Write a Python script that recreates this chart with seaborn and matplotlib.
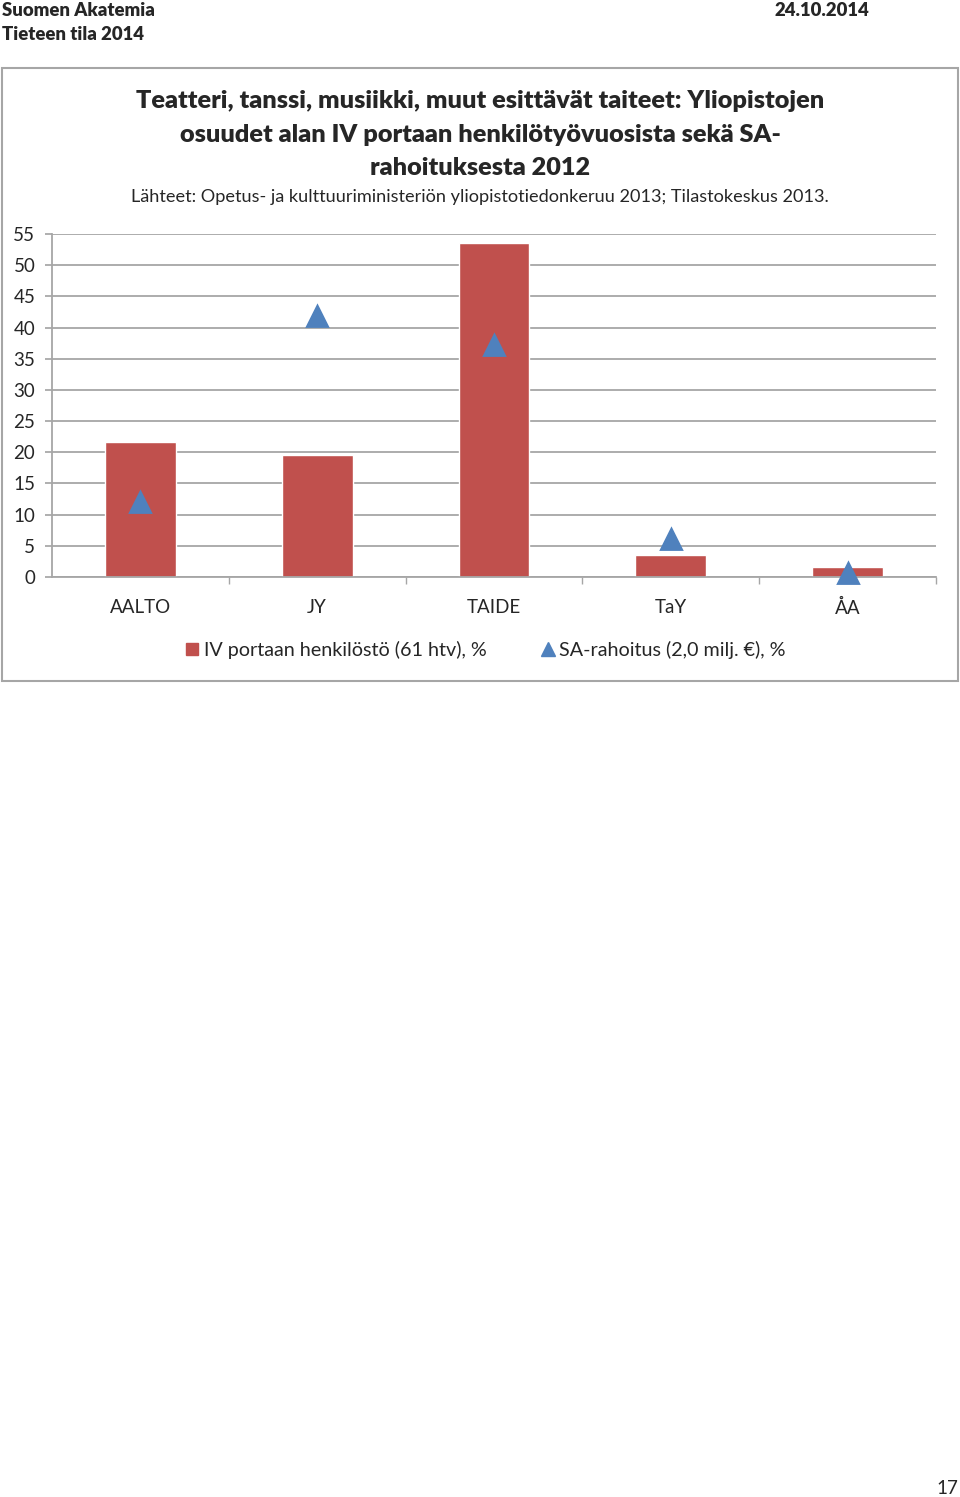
import matplotlib
matplotlib.use("Agg")
import matplotlib.pyplot as plt
from matplotlib.lines import Line2D
from matplotlib.patches import Rectangle
import seaborn as sns
import pandas as pd

categories = ["AALTO", "JY", "TAIDE", "TaY", "ÅA"]
staff_pct = [21.7, 19.6, 53.6, 3.6, 1.6]
funding_pct = [12.1, 41.9, 37.2, 6.1, 0.7]
yticks = [0, 5, 10, 15, 20, 25, 30, 35, 40, 45, 50, 55]
staff_label = "IV portaan henkilöstö (61 htv), %"
funding_label = "SA-rahoitus (2,0 milj. €), %"

df = pd.DataFrame({"cat": categories, "staff": staff_pct, "sa": funding_pct})

sns.set_theme(style="white")
plt.rcParams['font.family'] = ['Lato', 'DejaVu Sans']

W, H = 960, 1497
fig = plt.figure(figsize=(W / 100, H / 100), dpi=100)

def fx(x):
    return x / W

def fy(y):
    return 1 - y / H

# header texts
fig.text(fx(2), fy(10), "Suomen Akatemia", ha="left", va="center", fontsize=13.3, fontweight="heavy")
fig.text(fx(2), fy(34), "Tieteen tila 2014", ha="left", va="center", fontsize=13.3, fontweight="heavy")
fig.text(fx(869), fy(10), "24.10.2014", ha="right", va="center", fontsize=13.3, fontweight="heavy")
fig.text(fx(958), fy(1488), "17", ha="right", va="center", fontsize=13.5)

# chart border
fig.patches.append(Rectangle((fx(2), fy(681)), fx(956), (681 - 68) / H, transform=fig.transFigure,
                             fill=False, edgecolor="#a6a6a6", lw=1.5))

# titles
title_lines = ["Teatteri, tanssi, musiikki, muut esittävät taiteet: Yliopistojen",
               "osuudet alan IV portaan henkilötyövuosista sekä SA-",
               "rahoituksesta 2012"]
for yy, t in zip([101, 135, 168], title_lines):
    fig.text(fx(480), fy(yy), t, ha="center", va="center", fontsize=18.2, fontweight="heavy")
fig.text(fx(480), fy(197), "Lähteet: Opetus- ja kulttuuriministeriön yliopistotiedonkeruu 2013; Tilastokeskus 2013.",
         ha="center", va="center", fontsize=13.1)

ax = fig.add_axes([fx(52), fy(577), (936 - 52) / W, (577 - 234) / H])

sns.barplot(data=df, x="cat", y="staff", color="#C0504D", saturation=1, width=0.4, ax=ax, zorder=2)
sns.pointplot(data=df, x="cat", y="sa", color="#4F81BD", markers="^", linestyles="none",
              markersize=15, ax=ax, zorder=3)
for ln in ax.lines:
    ln.set_clip_on(False)

ax.set_xlim(-0.5, 4.5)
ax.set_ylim(0, 55)
ax.set_yticks(yticks)
ax.set_yticklabels([str(v) for v in yticks], fontsize=13.5)
ax.set_xlabel("")
ax.set_ylabel("")
ax.yaxis.grid(True, color="#a6a6a6", lw=1.3, zorder=0)
ax.set_axisbelow(True)
for s in ["top", "right"]:
    ax.spines[s].set_visible(False)
ax.spines["left"].set_color("#a6a6a6")
ax.spines["bottom"].set_color("#a6a6a6")
ax.spines["left"].set_linewidth(1.3)
ax.spines["bottom"].set_linewidth(1.3)
ax.tick_params(axis="y", left=True, length=5, color="#a6a6a6", pad=7)
ax.set_xticks(range(len(categories)))
ax.set_xticklabels(categories, fontsize=13.5)
ax.tick_params(axis="x", bottom=False, pad=10)
ax.set_xticks([0.5, 1.5, 2.5, 3.5, 4.5], minor=True)
ax.tick_params(axis="x", which="minor", bottom=True, length=5, color="#a6a6a6")

handles = [Line2D([], [], marker="s", linestyle="none", color="#C0504D", markersize=8),
           Line2D([], [], marker="^", linestyle="none", color="#4F81BD", markersize=9.5)]
fig.legend(handles, [staff_label, funding_label], loc="center", bbox_to_anchor=(fx(484), fy(650)),
           ncol=2, frameon=False, fontsize=14.2, handletextpad=0.1, columnspacing=2.6, handlelength=1.0)

fig.savefig("out.png", dpi=100)
